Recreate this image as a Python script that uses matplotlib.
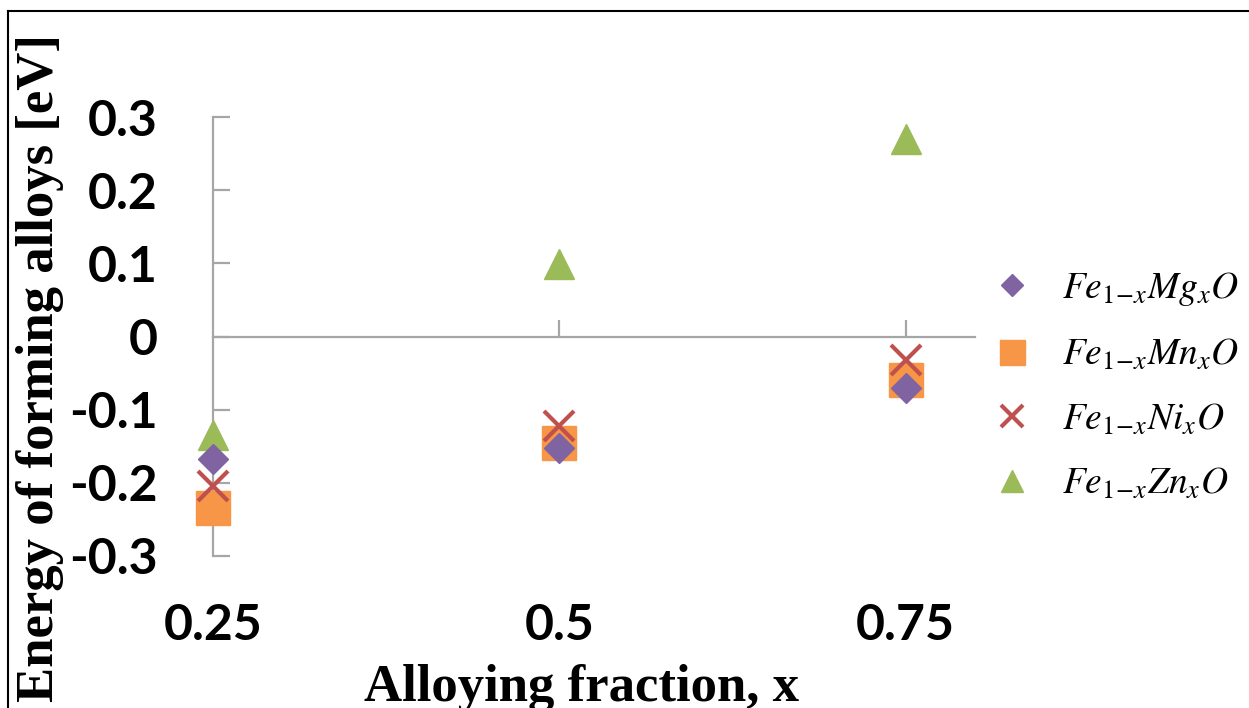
import matplotlib
matplotlib.use("Agg")
import matplotlib.pyplot as plt
from matplotlib.lines import Line2D

# alloying fraction x and formation energies [eV]
fractions = [0.25, 0.5, 0.75]
mg_energy = [-0.167, -0.152, -0.070]
mn_energy = [-0.234, -0.145, -0.060]
ni_energy = [-0.205, -0.122, -0.032]
zn_energy = [-0.134, 0.099, 0.270]

series_labels = [r"$Fe_{1\!-\!x}Mg_{x}O$", r"$Fe_{1\!-\!x}Mn_{x}O$",
                 r"$Fe_{1\!-\!x}Ni_{x}O$", r"$Fe_{1\!-\!x}Zn_{x}O$"]
y_ticks = [-0.3, -0.2, -0.1, 0, 0.1, 0.2, 0.3]
y_tick_labels = ["-0.3", "-0.2", "-0.1", "0", "0.1", "0.2", "0.3"]
x_tick_labels = ["0.25", "0.5", "0.75"]

plt.rcParams['font.family'] = ['Lato', 'DejaVu Sans']
plt.rcParams['mathtext.fontset'] = 'stix'

W, H = 1249, 708
fig = plt.figure(figsize=(W / 100, H / 100), dpi=100)
ax = fig.add_axes([213 / W, 1 - 556 / H, (975 - 213) / W, (556 - 117) / H])

ax.plot(fractions, mg_energy, linestyle='none', marker='D', ms=15.5,
        color='#8064A2', label=series_labels[0], zorder=4)
ax.plot(fractions, mn_energy, linestyle='none', marker='s', ms=24,
        color='#F79646', label=series_labels[1], zorder=3)
ax.plot(fractions, ni_energy, linestyle='none', marker='x', ms=21, mew=3,
        color='#C0504D', label=series_labels[2], zorder=5)
ax.plot(fractions, zn_energy, linestyle='none', marker='^', ms=22,
        color='#9BBB59', label=series_labels[3], zorder=3)

ax.set_xlim(0.25, 0.80)
ax.set_ylim(-0.3, 0.3)

axis_grey = '#A6A6A6'
for side in ['top', 'right']:
    ax.spines[side].set_visible(False)
ax.spines['bottom'].set_position(('data', 0))
ax.spines['bottom'].set_color(axis_grey)
ax.spines['left'].set_color(axis_grey)
ax.spines['bottom'].set_linewidth(1.6)
ax.spines['left'].set_linewidth(1.6)
for line in ax.lines:
    line.set_clip_on(False)

ax.set_yticks(y_ticks)
ax.set_yticklabels(y_tick_labels, fontsize=36, fontweight='bold')
ax.tick_params(axis='y', direction='in', length=12.5, width=1.6,
               color=axis_grey, pad=40)
ax.set_xticks(fractions[1:])
ax.set_xticklabels([])
ax.tick_params(axis='x', direction='in', length=12, width=1.6,
               color=axis_grey)

# Excel "low" position tick labels below the plot area
for xv, lab in zip(fractions, x_tick_labels):
    ax.text(xv, -0.159, lab, transform=ax.get_xaxis_transform(),
            ha='center', va='center', fontsize=36, fontweight='bold')

fig.text(581 / W, 1 - 701 / H, "Alloying fraction, x", ha='center',
         va='baseline', fontsize=38, fontweight='bold',
         family='Liberation Serif')
fig.text(53 / W, 1 - 702 / H, "Energy of forming alloys [eV]", rotation=90,
         rotation_mode='anchor', ha='left', va='baseline', fontsize=38,
         fontweight='bold', family='Liberation Serif')

fig.legend(loc='center left', bbox_to_anchor=(993 / W, 1 - 385 / H),
           frameon=False, fontsize=27, markerscale=0.75, handlelength=1.0,
           handletextpad=0.85, labelspacing=0.75, borderpad=0,
           borderaxespad=0)

# partial frame seen at top and left of the picture
fig.add_artist(Line2D([8 / W, 1], [1 - 11 / H, 1 - 11 / H], color='black', lw=1.5))
fig.add_artist(Line2D([8 / W, 8 / W], [0, 1 - 11 / H], color='black', lw=1.5))

fig.savefig("out.png", dpi=100)
